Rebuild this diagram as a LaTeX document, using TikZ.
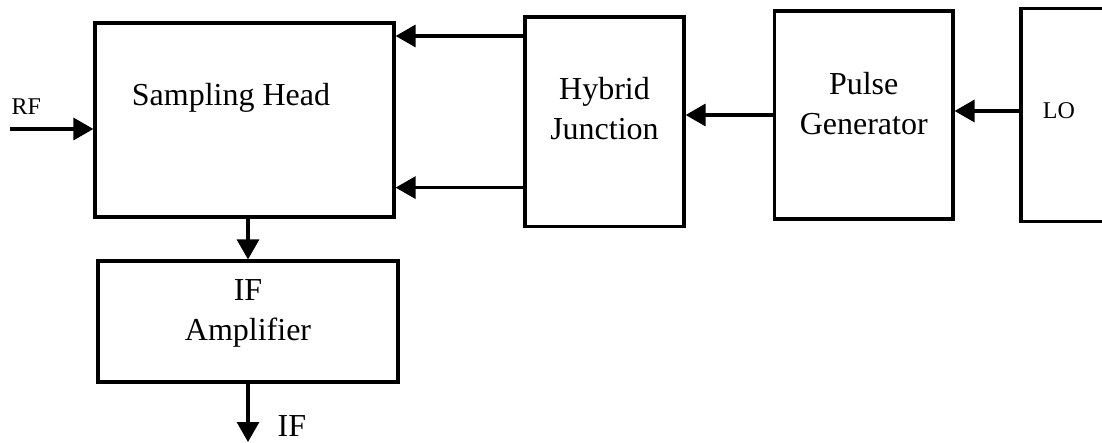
\documentclass[tikz,border=0pt]{standalone}
\usepackage{fontspec}
\setmainfont{Liberation Serif}
\usetikzlibrary{arrows.meta, positioning}
\tikzstyle{block} = [rectangle, draw, line width=1.6pt, align=center, inner sep=0pt, font=\fontsize{16}{20}\selectfont]
\tikzstyle{line} = [draw, line width=1.6pt, -{Triangle[length=10pt, width=11pt]}]
\tikzstyle{smalltext} = [font=\fontsize{12}{14}\selectfont]
\tikzstyle{lbl} = [font=\fontsize{16}{20}\selectfont, inner sep=0pt]

\begin{document}
\begin{tikzpicture}[x=0.5pt, y=-0.5pt, node distance=180pt]
        \useasboundingbox (0,0) rectangle (1102,443);
        \clip (0,0) rectangle (1102,443);
        \node [block, minimum width=149.5pt, minimum height=97pt, text depth=26pt] (sampling) at (244.5,120) {Sampling Head\hspace*{13.5pt}};
        \node [block, right of=sampling, yshift=-0.9pt, minimum width=79.5pt, minimum height=104.75pt, text depth=13pt] (hybrid) {Hybrid\\Junction};
        \node [block, right of=hybrid, node distance=129.6pt, yshift=3.4pt, minimum width=89.25pt, minimum height=104pt, text depth=11.25pt] (pulse) {Pulse\\Generator};
        \node [block, smalltext, right of=pulse, node distance=123.6pt, minimum width=90pt, minimum height=106.75pt, text width=68pt, inner xsep=11pt, align=left, text depth=4pt] (lo) {LO};
        \node [block, below of=sampling, node distance=100.75pt, xshift=1.75pt, minimum width=150pt, minimum height=60.5pt, text depth=11pt] (ifamp) {IF\\Amplifier};

        \coordinate (rfin) at (10,129);
        \coordinate (hyup) at ([yshift=42.9pt]hybrid.west);
        \coordinate (hydown) at ([yshift=-32.9pt]hybrid.west);
        \coordinate (loout) at ([yshift=2pt]lo.west);
        \coordinate (ifout) at (247,442);

        \path [line] (rfin) -- (rfin -| sampling.west) node [smalltext, pos=0, anchor=base west, yshift=7pt, inner sep=0pt] {RF};
        \path [line] (hyup) -- (hyup -| sampling.east);
        \path [line] (hydown) -- (hydown -| sampling.east);
        \path [line] (pulse.west) -- (pulse.west -| hybrid.east);
        \path [line] (loout) -- (loout -| pulse.east);
        \path [line] (ifamp.north |- sampling.south) -- (ifamp.north);
        \path [line] (ifamp.south) -- (ifamp.south |- ifout) node [lbl, pos=0.72, anchor=west, xshift=14pt] {IF};
    \end{tikzpicture}
\end{document}
